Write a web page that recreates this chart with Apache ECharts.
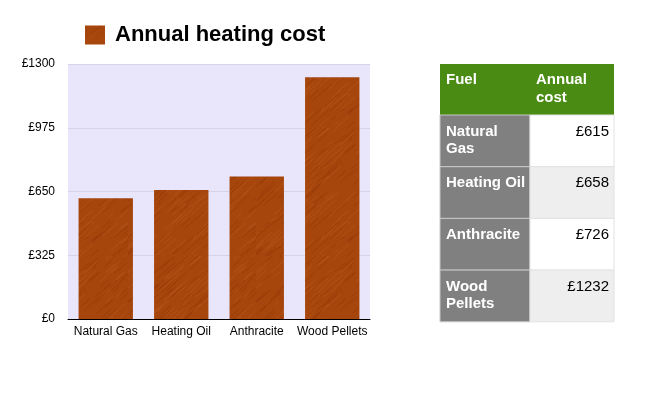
<!DOCTYPE html>
<html><head><meta charset="utf-8">
<script src="https://cdn.jsdelivr.net/npm/echarts@6/dist/echarts.min.js"></script>
<style>html,body{margin:0;padding:0;background:#fff}#c{width:671px;height:394px}</style>
</head><body><div id="c"></div>
<script>
const categories = ['Natural Gas', 'Heating Oil', 'Anthracite', 'Wood Pellets'];
const costs = [615, 658, 726, 1232];
const yTicks = [0, 325, 650, 975, 1300];
const seriesName = 'Annual heating cost';
const tableHeaders = ['Fuel', 'Annual\ncost'];
const tableFuelLabels = ['Natural\nGas', 'Heating Oil', 'Anthracite', 'Wood\nPellets'];

function woodPattern() {
  const c = document.createElement('canvas');
  c.width = 128; c.height = 128;
  const g = c.getContext('2d');
  g.fillStyle = '#a6450c';
  g.fillRect(0, 0, 128, 128);
  function h(i) { const x = Math.sin(i * 12.9898) * 43758.5453; return x - Math.floor(x); }
  for (let i = 0; i < 420; i++) {
    const x = h(i) * 180 - 26, y = h(i + 1000) * 180 - 26, len = 6 + h(i + 2000) * 22;
    const t = h(i + 3000);
    g.strokeStyle = t > 0.55 ? 'rgba(205,115,55,0.26)' : 'rgba(105,32,4,0.22)';
    g.lineWidth = 1;
    g.beginPath(); g.moveTo(x, y); g.lineTo(x + len * 0.75, y - len * 0.66); g.stroke();
  }
  return c;
}
const wood = { image: woodPattern(), repeat: 'repeat' };

const chart = echarts.init(document.getElementById('c'), null, { renderer: 'canvas' });
const FONT = 'Liberation Sans, Arial, Helvetica, sans-serif';

// table geometry
const tX = [440, 530], tW = [90, 84];
const headerTop = 64, headerH = 51, rowH = 51.7;
const graphics = [];
graphics.push({ type: 'rect', shape: { x: tX[0], y: headerTop, width: tW[0] + tW[1], height: headerH }, style: { fill: '#4a8c13' } });
tableHeaders.forEach((hd, i) => {
  graphics.push({ type: 'text', x: tX[i] + 6, y: headerTop + 7, style: { text: hd, fill: '#fff', font: 'bold 15px ' + FONT, lineHeight: 18 } });
});
tableFuelLabels.forEach((lab, r) => {
  const y = headerTop + headerH + r * rowH;
  graphics.push({ type: 'rect', shape: { x: tX[0], y: y, width: tW[0], height: rowH }, style: { fill: '#808080', stroke: '#c8c8c8', lineWidth: 1 } });
  graphics.push({ type: 'rect', shape: { x: tX[1], y: y, width: tW[1], height: rowH }, style: { fill: r % 2 === 0 ? '#ffffff' : '#eeeeee', stroke: '#e2e2e2', lineWidth: 1 } });
  graphics.push({ type: 'text', x: tX[0] + 6, y: y + 8, style: { text: lab, fill: '#fff', font: 'bold 15px ' + FONT, lineHeight: 17 } });
  graphics.push({ type: 'text', x: tX[1] + tW[1] - 5, y: y + 9, style: { text: '£' + costs[r], fill: '#000', font: '15px ' + FONT, align: 'right' } });
});

chart.setOption({
  backgroundColor: '#fff',
  textStyle: { fontFamily: FONT },
  animation: false,
  legend: {
    left: 80, top: 19, itemWidth: 20, itemHeight: 19, itemGap: 10,
    icon: 'rect',
    textStyle: { fontSize: 22, fontWeight: 'bold', color: '#000', fontFamily: FONT, padding: [0, 0, 0, 5] },
    data: [seriesName]
  },
  grid: { left: 68, right: 301, top: 64, bottom: 75, show: true, backgroundColor: '#e9e6fb', borderWidth: 0 },
  xAxis: {
    type: 'category', data: categories,
    axisLine: { lineStyle: { color: '#000', width: 1 } },
    axisTick: { show: false },
    axisLabel: { color: '#000', fontSize: 12, margin: 7, interval: 0 }
  },
  yAxis: {
    type: 'value', min: yTicks[0], max: yTicks[yTicks.length - 1], interval: yTicks[1] - yTicks[0],
    axisLine: { show: false }, axisTick: { show: false },
    axisLabel: { color: '#000', fontSize: 12, margin: 13, formatter: v => '£' + v },
    splitLine: { lineStyle: { color: '#d6d3e6', width: 1 } }
  },
  series: [{
    name: seriesName, type: 'bar', data: costs, barWidth: '72%',
    itemStyle: { color: wood }
  }],
  graphic: graphics
});
</script></body></html>
